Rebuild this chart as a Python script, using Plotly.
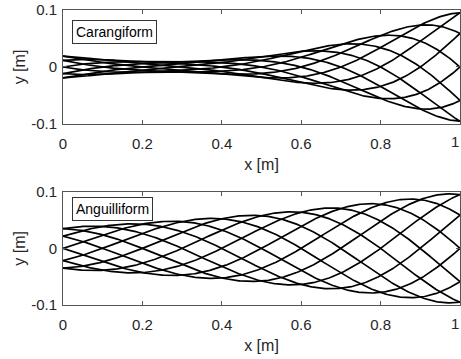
import numpy as np
import plotly.graph_objects as go

# ---- data ----
panel_names = ["Carangiform", "Anguilliform"]
x_ticks = [0, 0.2, 0.4, 0.6, 0.8, 1.0]
x_tick_labels = ["0", "0.2", "0.4", "0.6", "0.8", "1"]
y_ticks = [-0.1, 0, 0.1]
y_tick_labels = ["-0.1", "0", "0.1"]
snapshot_phases = [0.0, 0.1, 0.2, 0.3, 0.4, 0.5, 0.6, 0.7, 0.8, 0.9]  # fraction of a period
wavelength = [1.0, 1.0]                              # body lengths
carangiform_envelope = [0.02, -0.0825, 0.1625]       # amplitude polynomial coefficients (c0, c1, c2)
anguilliform_envelope = [0.1, 1.0]                   # tail amplitude, growth rate
body_x = np.linspace(0, 1, 301)

def envelope(name, x):
    if name == "Carangiform":
        c0, c1, c2 = carangiform_envelope
        return c0 + c1 * x + c2 * x ** 2
    a, k = anguilliform_envelope
    return a * np.exp(k * (x - 1))

fig = go.Figure()
axis_font = dict(family="Liberation Sans, Arial, sans-serif", size=15, color="#262626")
title_font = dict(family="Liberation Sans, Arial, sans-serif", size=16, color="#262626")

domains = [[0.6136, 1.0], [0.0, 0.384]]
for p, name in enumerate(panel_names):
    xa = "x" if p == 0 else "x2"
    ya = "y" if p == 0 else "y2"
    amp = envelope(name, body_x)
    for ph in snapshot_phases:
        yy = amp * np.sin(2 * np.pi * (body_x / wavelength[p] - ph))
        fig.add_trace(go.Scatter(x=body_x, y=yy, mode="lines", xaxis=xa, yaxis=ya,
                                 line=dict(color="black", width=1.7), showlegend=False,
                                 hoverinfo="skip"))
    common = dict(showline=True, linecolor="#555555", linewidth=1, mirror="ticks",
                  ticks="inside", ticklen=4, tickcolor="#555555", showgrid=False,
                  zeroline=False, tickfont=axis_font)
    xkey = "xaxis" if p == 0 else "xaxis2"
    ykey = "yaxis" if p == 0 else "yaxis2"
    # last label ("1") sits on the page edge; it is drawn as an annotation so it is not dropped
    shown_x_labels = x_tick_labels[:-1] + [""]
    fig.update_layout(**{
        xkey: dict(common, range=[0, 1], tickvals=x_ticks, ticktext=shown_x_labels,
                   anchor=ya, domain=[0, 1], ticklabelstandoff=6,
                   title=dict(text="x [m]", font=title_font, standoff=7)),
        ykey: dict(common, range=[-0.1, 0.1], tickvals=y_ticks, ticktext=y_tick_labels,
                   anchor=xa, domain=domains[p], ticklabelstandoff=2,
                   title=dict(text="y [m]", font=title_font, standoff=1)),
    })
    fig.add_annotation(text=x_tick_labels[-1], xref=xa, yref=f"{ya} domain",
                       x=x_ticks[-1], y=0, xanchor="right", yanchor="middle",
                       xshift=1, yshift=-18, showarrow=False, font=axis_font)
    fig.add_annotation(text=name, xref=f"{xa} domain", yref=f"{ya} domain",
                       x=0.022, y=0.915 if p == 0 else 0.95, xanchor="left", yanchor="top",
                       showarrow=False, bgcolor="white", bordercolor="#333333",
                       borderwidth=1, borderpad=3,
                       font=dict(family="Liberation Sans, Arial, sans-serif", size=14, color="black"))

fig.update_layout(width=461, height=359, margin=dict(l=63, r=1, t=10, b=54),
                  plot_bgcolor="white", paper_bgcolor="white")
fig.write_html("out.html")
